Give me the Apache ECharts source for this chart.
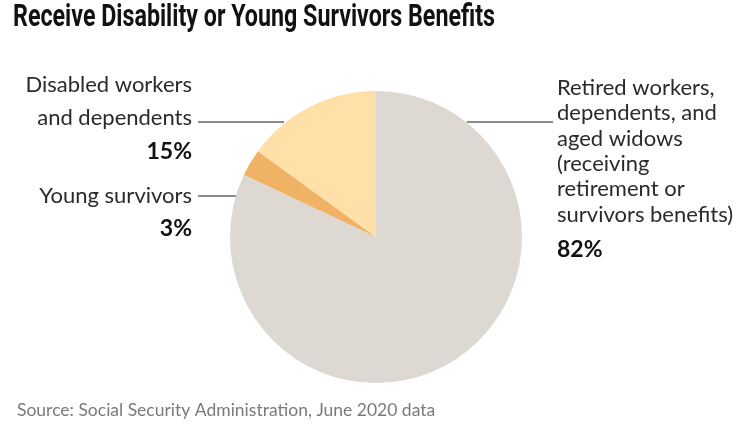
<!DOCTYPE html>
<html>
<head>
<meta charset="utf-8">
<script src="https://cdn.jsdelivr.net/npm/echarts@6/dist/echarts.min.js"></script>
<style>html,body{margin:0;padding:0;background:#fff}#c{width:750px;height:430px}</style>
</head>
<body>
<div id="c"></div>
<script>
var titleText = 'Receive Disability or Young Survivors Benefits';
var sourceText = 'Source: Social Security Administration, June 2020 data';
var categories = ['Retired workers, dependents, and aged widows (receiving retirement or survivors benefits)', 'Young survivors', 'Disabled workers and dependents'];
var labelLines = [
  ['Retired workers,', 'dependents, and', 'aged widows', '(receiving', 'retirement or', 'survivors benefits)'],
  ['Young survivors'],
  ['Disabled workers', 'and dependents']
];
var values = [82, 3, 15];
var colors = ['#ddd8d2', '#f0b265', '#fee0a8'];

var chart = echarts.init(document.getElementById('c'), null, {renderer: 'canvas'});
var FONT = 'Lato, "Open Sans", sans-serif';

var graphics = [
  {type: 'text', x: 13, y: 3, style: {text: titleText, font: 'bold 31px Roboto, sans-serif', fill: '#111'}, scaleX: 0.75},
  {type: 'text', x: 17, y: 410, style: {text: sourceText, font: '17.5px Lato, sans-serif', fill: '#7a7a7a', verticalAlign: 'middle'}},
  // leader lines
  {type: 'line', shape: {x1: 198, y1: 122, x2: 284, y2: 122}, style: {stroke: '#666', lineWidth: 1.3}, z: 10},
  {type: 'line', shape: {x1: 198, y1: 196, x2: 236, y2: 196}, style: {stroke: '#666', lineWidth: 1.3}, z: 10},
  {type: 'line', shape: {x1: 467, y1: 122, x2: 553, y2: 122}, style: {stroke: '#666', lineWidth: 1.3}, z: 10},
  // Disabled label
  {type: 'text', x: 192, y: 85, style: {text: labelLines[2][0], font: '22px ' + FONT, fill: '#2a2a2a', align: 'right', verticalAlign: 'middle'}},
  {type: 'text', x: 192, y: 118, style: {text: labelLines[2][1], font: '22px ' + FONT, fill: '#2a2a2a', align: 'right', verticalAlign: 'middle'}},
  {type: 'text', x: 192, y: 152, style: {text: values[2] + '%', font: 'bold 23px ' + FONT, fill: '#111', align: 'right', verticalAlign: 'middle'}},
  // Young survivors
  {type: 'text', x: 192, y: 196, style: {text: labelLines[1][0], font: '22px ' + FONT, fill: '#2a2a2a', align: 'right', verticalAlign: 'middle'}},
  {type: 'text', x: 192, y: 229, style: {text: values[1] + '%', font: 'bold 23px ' + FONT, fill: '#111', align: 'right', verticalAlign: 'middle'}},
  // Retired
  {type: 'text', x: 557, y: 75, style: {text: labelLines[0].join('\n'), font: '22px ' + FONT, lineHeight: 25.4, fill: '#2a2a2a', align: 'left', verticalAlign: 'top'}},
  {type: 'text', x: 557, y: 250, style: {text: values[0] + '%', font: 'bold 23px ' + FONT, fill: '#111', align: 'left', verticalAlign: 'middle'}}
];

chart.setOption({
  animation: false,
  color: colors,
  series: [{
    type: 'pie',
    center: [376, 237],
    radius: [0, 146],
    startAngle: 90,
    clockwise: true,
    label: {show: false},
    labelLine: {show: false},
    silent: true,
    itemStyle: {borderWidth: 0},
    data: categories.map(function (c, i) { return {name: c, value: values[i]}; })
  }],
  graphic: graphics
});
</script>
</body>
</html>
